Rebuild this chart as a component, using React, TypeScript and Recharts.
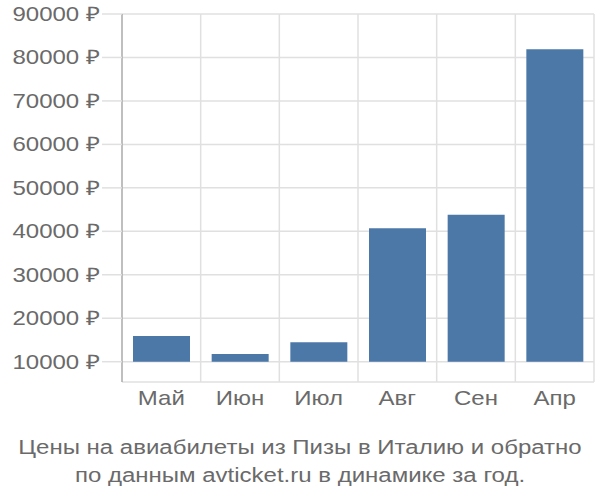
import React from "react";
import { BarChart, Bar, XAxis, YAxis, CartesianGrid } from "recharts";

const months = ["Май", "Июн", "Июл", "Авг", "Сен", "Апр"];
const prices = [15900, 11800, 14500, 40700, 43800, 81900];
const yTicks = [10000, 20000, 30000, 40000, 50000, 60000, 70000, 80000, 90000];
const baseline = 10000;

const data = months.map((m, i) => ({ month: m, price: [baseline, prices[i]] }));

const FONT = '"Liberation Sans", Arial, sans-serif';
// the reference text looks stretched sideways
const STRETCH = 1.2;

function YTick({ x, y, payload }: any) {
  return (
    <text
      transform={`translate(${x},${y}) scale(${STRETCH},1)`}
      dy={7}
      textAnchor="end"
      fill="#6a6a6a"
      fontSize={20}
      fontFamily={FONT}
    >
      {`${payload.value} ₽`}
    </text>
  );
}

function XTick({ x, y, payload }: any) {
  return (
    <text
      transform={`translate(${x},${y}) scale(${STRETCH},1)`}
      dy={15}
      textAnchor="middle"
      fill="#6a6a6a"
      fontSize={20}
      fontFamily={FONT}
    >
      {payload.value}
    </text>
  );
}

export default function App() {
  return (
    <div style={{ position: "absolute", left: 0, top: 0, width: 600, height: 500, background: "#fff" }}>
      <BarChart
        width={600}
        height={420}
        data={data}
        margin={{ top: 14, right: 6, left: 0, bottom: 0 }}
        barSize={57}
      >
        <CartesianGrid
          stroke="#e0e0e0"
          strokeWidth={1.5}
          verticalCoordinatesGenerator={({ offset }: any) =>
            months.map((_, i) => offset.left + ((i + 1) * offset.width) / months.length)
          }
        />
        <XAxis dataKey="month" axisLine={false} tickLine={false} height={38} tick={<XTick />} interval={0} />
        <YAxis
          width={122}
          domain={[5330, 90000]}
          ticks={yTicks}
          allowDataOverflow
          tickSize={20}
          tickMargin={2}
          tickLine={{ stroke: "#e0e0e0", strokeWidth: 1.5 }}
          axisLine={{ stroke: "#aaa", strokeWidth: 1.5 }}
          tick={<YTick />}
        />
        <Bar dataKey="price" fill="#4c78a8" isAnimationActive={false} />
      </BarChart>
      <div
        style={{
          position: "absolute",
          left: 0,
          top: 433,
          width: 600,
          textAlign: "center",
          fontFamily: FONT,
          fontSize: 20,
          lineHeight: "28px",
          color: "#6a6a6a",
          transform: `scaleX(${STRETCH})`,
        }}
      >
        Цены на авиабилеты из Пизы в Италию и обратно
        <br />
        по данным avticket.ru в динамике за год.
      </div>
    </div>
  );
}
